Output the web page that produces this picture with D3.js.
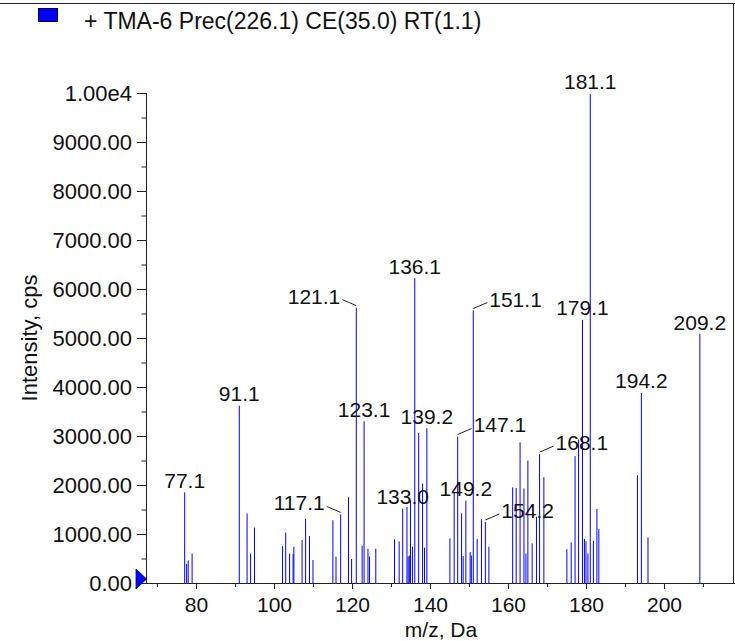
<!DOCTYPE html>
<html>
<head>
<meta charset="utf-8">
<script src="https://cdn.jsdelivr.net/npm/d3@7/dist/d3.min.js"></script>
<style>
  html, body { margin: 0; padding: 0; background: #fff; }
  svg { display: block; }
  text { font-family: "Liberation Sans", Arial, sans-serif; fill: #111; }
</style>
</head>
<body>
<svg id="chart" width="735" height="641"></svg>
<script>
// ---- data ----
const title = "+ TMA-6 Prec(226.1) CE(35.0) RT(1.1)";
const xTitle = "m/z, Da";
const yTitle = "Intensity, cps";

const peakMz = [
  77.1, 77.6, 78.0, 79.0, 91.1, 93.1, 94.0, 95.0,
  102.2, 103.0, 104.0, 104.9, 105.1, 107.2, 108.1, 109.1, 110.0,
  115.1, 115.9, 117.1, 119.1, 119.9, 121.1, 122.6, 123.1, 124.1, 124.5, 126.1,
  130.9, 132.1, 133.0, 134.1, 134.4, 134.7, 135.0, 135.5, 136.1, 137.1, 138.1, 138.6, 139.2,
  145.1, 146.2, 147.1, 148.1, 148.5, 149.2, 150.3, 150.6, 151.1, 152.1, 153.2, 154.2, 155.1,
  161.2, 162.1, 163.1, 164.1, 164.6, 165.1, 166.2, 167.3, 168.1, 169.2,
  175.1, 176.2, 177.2, 178.1, 179.1, 179.6, 180.0, 180.5, 181.1, 181.9, 182.8, 183.3,
  193.2, 194.2, 195.9, 209.2
];
const peakIntensity = [
  1850, 390, 460, 600, 3620, 1420, 600, 1130,
  750, 1030, 600, 590, 740, 880, 1310, 960, 470,
  1280, 540, 1400, 1750, 490, 5620, 760, 3300, 700, 540, 700,
  890, 850, 1520, 1550, 540, 560, 1690, 740, 6220, 3060, 2030, 720, 3160,
  910, 1840, 2990, 1420, 550, 1680, 630, 560, 5560, 900, 1300, 1245, 740,
  1950, 1940, 2870, 1930, 600, 2500, 810, 1350, 2630, 2160,
  690, 830, 2590, 2930, 5370, 900, 850, 600, 9980, 860, 1510, 1100,
  2200, 3880, 930, 5080
];

// labelled peaks; side: 0 = centred above, -1 = left with leader, 1 = right with leader
const labelMz   = [77.1, 91.1, 117.1, 121.1, 123.1, 133.0, 136.1, 139.2, 147.1, 149.2, 151.1, 154.2, 168.1, 179.1, 181.1, 194.2, 209.2];
const labelSide = [0,    0,    -1,    -1,    0,     0,     0,     0,     1,     0,     1,     1,     1,     0,     0,     0,     0];

const xTicksMajor = [80, 100, 120, 140, 160, 180, 200];
const xTicksMinor = [70, 90, 110, 130, 150, 170, 190, 210];
const yTicksMajor = [0, 1000, 2000, 3000, 4000, 5000, 6000, 7000, 8000, 9000, 10000];
const yTickLabels = ["0.00", "1000.00", "2000.00", "3000.00", "4000.00", "5000.00", "6000.00", "7000.00", "8000.00", "9000.00", "1.00e4"];
const yTicksMinor = [500, 1500, 2500, 3500, 4500, 5500, 6500, 7500, 8500, 9500];

// ---- layout ----
const svg = d3.select("#chart");
const x = d3.scaleLinear().domain([67.18, 218.21]).range([146, 735]);
const y = d3.scaleLinear().domain([0, 10000]).range([583, 93]);
const axisColor = "#222";

// top frame line and right border
svg.append("line").attr("x1", 0).attr("x2", 735).attr("y1", 3.5).attr("y2", 3.5)
  .attr("stroke", axisColor).attr("stroke-width", 1);
svg.append("line").attr("x1", 733.5).attr("x2", 733.5).attr("y1", 3).attr("y2", 583)
  .attr("stroke", axisColor).attr("stroke-width", 1);

// legend
svg.append("rect").attr("x", 38.5).attr("y", 8.5).attr("width", 19).attr("height", 13)
  .attr("fill", "#0000ff").attr("stroke", "#000040").attr("stroke-width", 1);
svg.append("text").attr("x", 84).attr("y", 29)
  .attr("font-size", 23).text(title);

// peaks
const peaks = peakMz.map((m, i) => ({ mz: m, v: peakIntensity[i] }));
svg.append("g").selectAll("line").data(peaks).join("line")
  .attr("x1", d => x(d.mz)).attr("x2", d => x(d.mz))
  .attr("y1", y(0)).attr("y2", d => y(d.v))
  .attr("stroke", "#0000ff").attr("stroke-width", 1);

// x axis
const gx = svg.append("g").attr("transform", `translate(0,${y(0)})`);
gx.call(d3.axisBottom(x).tickValues(xTicksMinor).tickSize(4).tickFormat(""))
  .call(g => g.select(".domain").remove());
gx.append("g").call(d3.axisBottom(x).tickValues(xTicksMajor).tickSize(6).tickPadding(8)
    .tickFormat(d3.format("d")))
  .call(g => g.select(".domain").remove())
  .call(g => g.selectAll("text").attr("font-size", 21).attr("font-family", "Liberation Sans, Arial, sans-serif").attr("fill", "#111"));
gx.append("line").attr("x1", 146).attr("x2", 735).attr("y1", 0.5).attr("y2", 0.5).attr("stroke", axisColor);
gx.selectAll(".tick line").attr("stroke", axisColor);

// y axis
const gy = svg.append("g").attr("transform", "translate(146,0)");
gy.call(d3.axisLeft(y).tickValues(yTicksMinor).tickSize(4.5).tickFormat(""))
  .call(g => g.select(".domain").remove());
gy.append("g").call(d3.axisLeft(y).tickValues(yTicksMajor).tickSize(9).tickPadding(5)
    .tickFormat((d, i) => yTickLabels[i]))
  .call(g => g.select(".domain").remove())
  .call(g => g.selectAll("text").attr("font-size", 22).attr("font-family", "Liberation Sans, Arial, sans-serif").attr("fill", "#111"));
gy.append("line").attr("x1", 0.5).attr("x2", 0.5).attr("y1", y(10000)).attr("y2", y(0) + 1).attr("stroke", axisColor);
gy.selectAll(".tick line").attr("stroke", axisColor);

// axis titles
svg.append("text").attr("x", 441).attr("y", 637).attr("text-anchor", "middle")
  .attr("font-size", 21).text(xTitle);
svg.append("text").attr("transform", "translate(37,338) rotate(-90)")
  .attr("text-anchor", "middle").attr("font-size", 22).text(yTitle);

// origin marker
svg.append("path")
  .attr("d", `M136,${y(0) - 14} L146.5,${y(0) - 4} L136,${y(0) + 6} Z`)
  .attr("fill", "#0000ff").attr("stroke", "#000060").attr("stroke-width", 0.8);

// peak labels
const gl = svg.append("g");
labelMz.forEach((m, i) => {
  const idx = peakMz.indexOf(m);
  const px = x(m), py = y(peakIntensity[idx]);
  const side = labelSide[i];
  const txt = m.toFixed(1);
  if (side === 0) {
    gl.append("text").attr("x", px).attr("y", py - 4.5).attr("text-anchor", "middle")
      .attr("font-size", 21).text(txt);
  } else {
    gl.append("line").attr("x1", px).attr("y1", py - 2).attr("x2", px + side * 14).attr("y2", py - 8)
      .attr("stroke", "#222").attr("stroke-width", 1);
    gl.append("text").attr("x", px + side * 16).attr("y", py - 4)
      .attr("text-anchor", side < 0 ? "end" : "start").attr("font-size", 21).text(txt);
  }
});
</script>
</body>
</html>
